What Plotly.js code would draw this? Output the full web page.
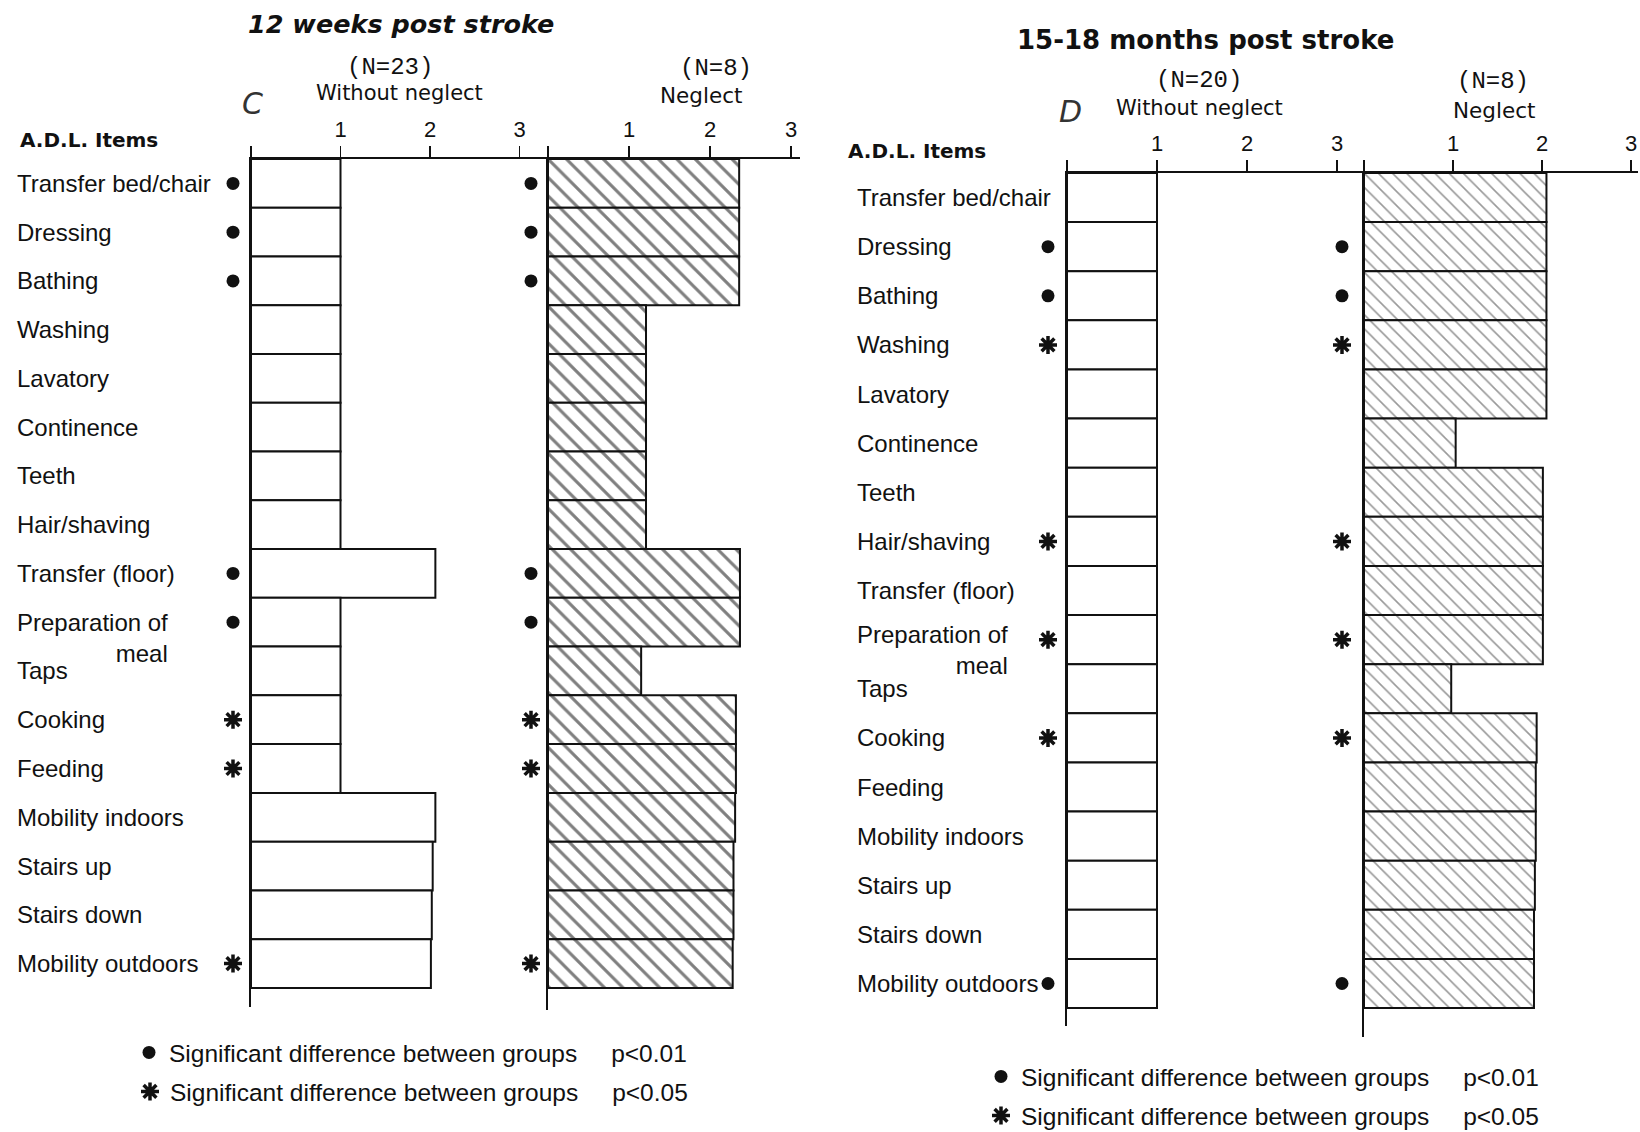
<!DOCTYPE html>
<html>
<head>
<meta charset="utf-8">
<script src="https://cdn.plot.ly/plotly-3.0.1.min.js"></script>
<style>html,body{margin:0;padding:0;background:#fff}</style>
</head>
<body>
<div id="chart" style="width:1640px;height:1132px"></div>
<script>
// A.D.L. items, top to bottom
const items = ['Transfer bed/chair', 'Dressing', 'Bathing', 'Washing', 'Lavatory', 'Continence', 'Teeth',
  'Hair/shaving', 'Transfer (floor)', 'Preparation of meal', 'Taps', 'Cooking', 'Feeding',
  'Mobility indoors', 'Stairs up', 'Stairs down', 'Mobility outdoors'];

// C: 12 weeks post stroke
const cWithout = [1, 1, 1, 1, 1, 1, 1, 1, 2.06, 1, 1, 1, 1, 2.06, 2.03, 2.02, 2.01];
const cNeglect = [2.36, 2.36, 2.36, 1.21, 1.21, 1.21, 1.21, 1.21, 2.37, 2.37, 1.15, 2.32, 2.32, 2.31, 2.29, 2.29, 2.28];
// D: 15-18 months post stroke
const dWithout = [1, 1, 1, 1, 1, 1, 1, 1, 1, 1, 1, 1, 1, 1, 1, 1, 1];
const dNeglect = [2.05, 2.05, 2.05, 2.05, 2.05, 1.03, 2.01, 2.01, 2.01, 2.01, 0.98, 1.94, 1.93, 1.93, 1.92, 1.91, 1.91];

// significance between groups: 'p01' = p<0.01, 'p05' = p<0.05
const cSig = ['p01', 'p01', 'p01', '', '', '', '', '', 'p01', 'p01', '', 'p05', 'p05', '', '', '', 'p05'];
const dSig = ['', 'p01', 'p01', 'p05', '', '', '', 'p05', '', 'p05', '', 'p05', '', '', '', '', 'p01'];

const tickVals = [0, 1, 2, 3];
const tickText = ['', '1', '2', '3'];

const W = 1640, H = 1132;
const px = v => v / W;
const py = v => 1 - v / H;

const SANS = 'Liberation Sans, Arial, sans-serif';
const DEJA = 'DejaVu Sans, sans-serif';
const MONO = 'Liberation Mono, Courier New, monospace';
const INK = '#111';

const NB = '&nbsp;'.repeat(5);
const sigKinds = [
  {key: 'p01', name: 'Significant difference between groups' + NB + 'p&lt;0.01',
   marker: {symbol: 'circle', size: 13, color: INK}},
  {key: 'p05', name: 'Significant difference between groups' + NB + 'p&lt;0.05',
   marker: {symbol: 'asterisk', size: 15, color: INK, line: {color: INK, width: 3.5}}}
];

// panel frames in pixels; markAt is the centre of the significance-mark column
const panels = [
  {xa: 'x', ya: 'y', mx: 'x5', left: 251, right: 548, unit: 89.5, top: 159, bottom: 1007, pitch: 48.76,
   markAt: 233, values: cWithout, hatch: null, sig: cSig, legends: {p01: 'legend', p05: 'legend3'}, showLegend: true},
  {xa: 'x2', ya: 'y2', mx: 'x6', left: 548, right: 800, unit: 81, top: 159, bottom: 1010, pitch: 48.76,
   markAt: 531, values: cNeglect, hatch: {size: 13, solidity: 0.24, fg: '#000'}, sig: cSig, legends: {p01: 'legend', p05: 'legend3'}, showLegend: false},
  {xa: 'x3', ya: 'y3', mx: 'x7', left: 1067, right: 1364, unit: 90, top: 173, bottom: 1026, pitch: 49.12,
   markAt: 1048, values: dWithout, hatch: null, sig: dSig, legends: {p01: 'legend2', p05: 'legend4'}, showLegend: true},
  {xa: 'x4', ya: 'y4', mx: 'x8', left: 1364, right: 1638, unit: 89, top: 173, bottom: 1037, pitch: 49.12,
   markAt: 1342, values: dNeglect, hatch: {size: 10, solidity: 0.16, fg: '#333'}, sig: dSig, legends: {p01: 'legend2', p05: 'legend4'}, showLegend: false}
];

const axName = (id, letter) => id === letter ? letter + 'axis' : letter + 'axis' + id.slice(1);

const traces = [];
const layout = {
  width: W, height: H,
  margin: {l: 0, r: 0, t: 0, b: 0, autoexpand: false},
  paper_bgcolor: '#fff', plot_bgcolor: 'rgba(0,0,0,0)',
  bargap: 0,
  showlegend: true,
  annotations: []
};

panels.forEach(p => {
  const marker = {color: '#fff', line: {color: INK, width: 2}};
  if (p.hatch) {
    marker.pattern = {shape: '\\', size: p.hatch.size, solidity: p.hatch.solidity,
      fgcolor: p.hatch.fg, bgcolor: '#fff', fillmode: 'overlay'};
  }
  traces.push({
    type: 'bar', orientation: 'h', y: items, x: p.values,
    xaxis: p.xa, yaxis: p.ya, width: 1, marker: marker,
    showlegend: false, hoverinfo: 'skip'
  });

  // significance marks sit in a narrow column left of the panel
  sigKinds.forEach(k => {
    const ys = items.filter((_, i) => p.sig[i] === k.key);
    traces.push({
      type: 'scatter', mode: 'markers', y: ys, x: ys.map(() => 0.5),
      xaxis: p.mx, yaxis: p.ya, cliponaxis: false,
      marker: k.marker, name: k.name,
      legend: p.legends[k.key],
      showlegend: p.showLegend, hoverinfo: 'skip'
    });
  });

  layout[axName(p.xa, 'x')] = {
    domain: [px(p.left), px(p.right)], range: [0, (p.right - p.left) / p.unit],
    anchor: p.ya, side: 'top',
    showline: true, linecolor: INK, linewidth: 2,
    ticks: 'outside', ticklen: 11, tickwidth: 1.5, tickcolor: INK,
    tickvals: tickVals, ticktext: tickText,
    tickfont: {family: SANS, size: 22, color: INK},
    showgrid: false, zeroline: false, fixedrange: true
  };
  layout[axName(p.mx, 'x')] = {
    domain: [px(p.markAt - 12), px(p.markAt + 12)], range: [0, 1],
    anchor: p.ya, visible: false, fixedrange: true
  };
  layout[axName(p.ya, 'y')] = {
    domain: [py(p.bottom), py(p.top)], type: 'category',
    categoryorder: 'array', categoryarray: items,
    range: [(p.bottom - p.top) / p.pitch - 0.5, -0.5],
    anchor: p.xa, showline: true, linecolor: INK, linewidth: 2,
    showticklabels: false, ticks: '', showgrid: false, zeroline: false, fixedrange: true
  };
});

// item labels on the left of each pair of panels
function addLabels(yref, xLeft, mealShift) {
  items.forEach(name => {
    const two = name === 'Preparation of meal';
    layout.annotations.push({
      xref: 'paper', x: px(xLeft), xanchor: 'left',
      yref: yref, y: name, yanchor: 'middle',
      yshift: two ? mealShift : 0,
      text: two ? 'Preparation of<br>meal' : name,
      align: two ? 'right' : 'left',
      showarrow: false, font: {family: SANS, size: 24, color: INK}
    });
  });
}
addLabels('y', 15, -16);
addLabels('y3', 855, -10);

function note(text, x, y, font, anchor) {
  layout.annotations.push({
    xref: 'paper', yref: 'paper', x: px(x), y: py(y),
    xanchor: anchor || 'center', yanchor: 'middle',
    text: text, showarrow: false, font: font
  });
}
// C headers
note('12 weeks post stroke', 401, 24, {family: DEJA, size: 25.5, weight: 'bold', style: 'italic', color: INK});
note('(N=23)', 390, 68, {family: MONO, size: 24, color: INK});
note('Without neglect', 399, 93, {family: DEJA, size: 21, color: INK});
note('C', 252, 104, {family: DEJA, size: 30, weight: 200, style: 'italic', color: '#333'});
note('(N=8)', 716, 69, {family: MONO, size: 24, color: INK});
note('Neglect', 701, 95, {family: DEJA, size: 21.5, color: INK});
note('A.D.L. Items', 18, 140, {family: DEJA, size: 20, weight: 'bold', color: INK}, 'left');
// D headers
note('15-18 months post stroke', 1205, 40, {family: DEJA, size: 26, weight: 'bold', color: INK});
note('(N=20)', 1199, 80, {family: MONO, size: 24, color: INK});
note('Without neglect', 1199, 108, {family: DEJA, size: 21, color: INK});
note('D', 1070, 111, {family: DEJA, size: 30, weight: 200, style: 'italic', color: '#333'});
note('(N=8)', 1493, 82, {family: MONO, size: 24, color: INK});
note('Neglect', 1494, 110, {family: DEJA, size: 21.5, color: INK});
note('A.D.L. Items', 846, 151, {family: DEJA, size: 20, weight: 'bold', color: INK}, 'left');

// one legend box per key row
const legendBase = () => ({
  xanchor: 'left', yanchor: 'top', bgcolor: 'rgba(0,0,0,0)', borderwidth: 0,
  font: {family: SANS, size: 24.5, color: INK}
});
layout.legend = Object.assign({x: px(129), y: py(1030)}, legendBase());
layout.legend3 = Object.assign({x: px(130), y: py(1069)}, legendBase());
layout.legend2 = Object.assign({x: px(981), y: py(1054)}, legendBase());
layout.legend4 = Object.assign({x: px(981), y: py(1093)}, legendBase());

Plotly.newPlot('chart', traces, layout, {staticPlot: true, displayModeBar: false});
</script>
</body>
</html>
